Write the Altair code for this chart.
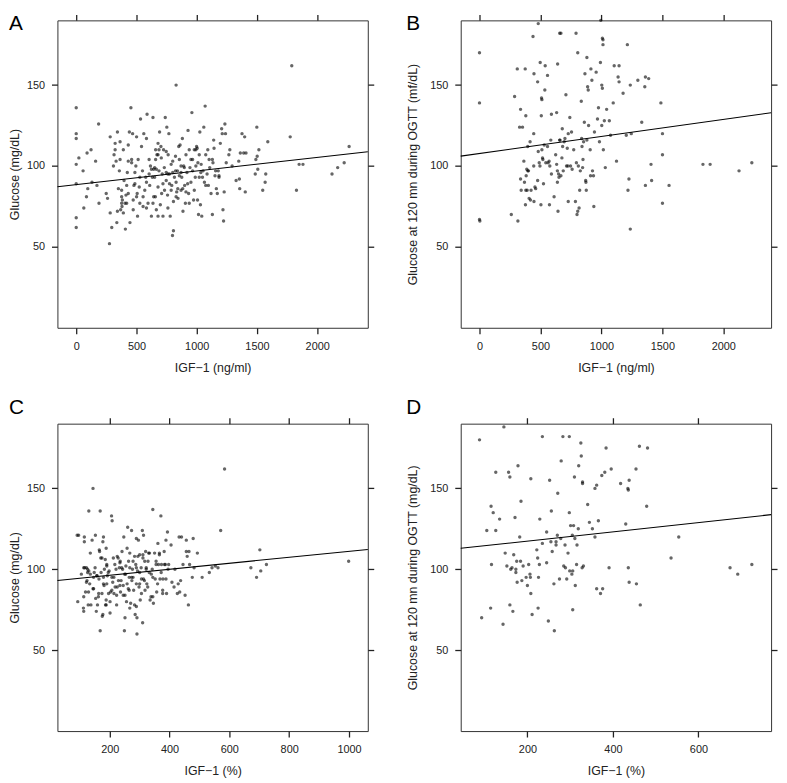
import altair as alt
import pandas as pd

FONT = "Liberation Sans"

# ---------------- Panel A: IGF-1 (ng/ml) vs fasting glucose ----------------
A_igf = [0,0,0,0,0,0,0,22,63,57,
90,123,96,85,131,161,186,189,172,249,
260,276,282,282,295,309,314,323,331,337,
342,342,350,358,364,369,377,377,380,383,
391,397,405,408,413,419,424,432,441,446,
454,460,468,473,479,487,495,501,506,509,
514,523,528,534,542,550,555,561,569,577,
583,588,596,605,610,616,624,632,637,643,
651,651,657,659,665,670,679,687,692,698,
703,709,714,720,725,731,739,747,752,758,
763,769,774,780,788,793,799,807,807,815,
824,829,834,840,845,851,856,862,870,876,
881,886,892,900,906,911,919,928,933,938,
944,952,960,966,974,980,988,993,999,1004,
1010,1015,1021,1026,1031,1037,1042,1053,1059,1064,
1070,1075,1086,1092,1097,1108,1119,1130,1135,1141,
1144,1152,1163,1171,1179,1185,1196,1207,1212,1218,
1223,1228,1234,1239,1245,1267,1275,1294,1327,1349,
1354,1357,1362,1376,1390,1398,1403,1409,1486,1491,
1499,1502,1507,1516,1548,1568,1573,1590,1776,1789,
1828,1850,1882,2123,2170,2224,2265,
323,364,432,460,487,501,528,555,583,605,
624,643,659,665,679,687,706,720,733,747,
761,774,788,801,824,829,843,856,870,884,
897,911,925,938,952,966,980,993,1007,1021,
1034,1048,1075,1103,1130,1157,1185,432,473,391,
419,377,583,637,679,761,829,870,801,747,679]
A_glu = [136,120,117,101,89,68,62,105,74,97,
108,110,86,81,90,103,126,77,88,83,
80,52,71,118,62,100,107,110,103,65,
121,72,86,97,104,73,81,77,75,79,
110,91,77,61,82,88,96,113,121,65,
136,104,120,79,88,96,100,118,83,69,
104,87,93,129,112,97,75,120,85,93,
117,132,77,104,88,100,69,93,130,81,
99,93,81,110,73,107,87,97,121,76,
112,83,95,69,110,99,130,91,124,82,
107,120,95,69,101,88,57,60,78,93,
106,150,84,97,80,112,104,113,85,93,
117,72,100,88,77,107,96,122,83,110,
99,90,133,104,79,110,93,100,112,111,
102,70,93,121,76,101,69,97,124,90,
137,107,95,110,88,99,83,70,102,116,
111,94,86,83,97,94,114,123,120,73,
66,84,126,120,102,107,110,100,91,103,
92,86,108,120,108,118,84,108,95,104,
124,106,98,110,85,90,95,115,118,162,
85,101,101,95,99,102,112,
114,115,103,102,89,81,77,81,90,95,
98,98,104,98,107,110,105,89,85,96,
95,89,85,96,97,81,86,94,96,86,
99,84,89,77,104,97,85,110,79,107,
96,93,88,104,104,97,93,83,73,71,
77,85,74,77,69,74,90,100,103,109,114]

# ---------------- Panel B: IGF-1 (ng/ml) vs 120-min OGTT glucose ----------------
B_igf = [0,0,0,3,261,288,310,315,329,337,
337,342,353,364,369,375,377,380,380,383,
388,391,396,396,402,407,415,418,423,439,
445,445,447,447,455,461,477,477,482,482,
490,496,498,504,507,509,512,512,517,520,
525,531,536,539,544,558,558,563,571,574,
577,585,590,590,612,625,633,633,639,639,
641,644,649,652,658,658,660,668,668,676,
679,682,687,695,701,709,714,720,725,728,
728,741,747,755,760,773,787,792,795,800,
806,806,811,817,822,827,835,838,841,846,
849,854,860,865,871,873,876,881,881,887,
892,895,908,911,914,922,927,935,938,943,
957,968,976,984,992,995,1003,1003,1008,1008,
1013,1013,1016,1024,1032,1043,1065,1075,1097,1105,
1124,1137,1145,1145,1178,1204,1213,1218,1226,1237,
1237,1245,1299,1331,1356,1361,1361,1388,1407,1412,
1488,1501,1501,1501,1555,1833,1892,2129,2234]
B_glu = [170,139,67,66,70,143,160,66,124,135,
92,85,124,103,90,160,76,85,131,94,
98,85,97,112,97,80,115,79,85,180,
120,100,157,78,87,86,152,91,109,188,
102,100,164,76,131,142,141,110,105,104,
89,113,147,162,102,156,112,102,103,76,
100,116,132,95,81,107,133,101,97,90,
163,72,95,93,182,116,116,182,94,105,
123,112,97,115,117,144,100,111,100,120,
78,130,100,121,98,110,78,182,102,70,
170,72,100,74,85,97,140,117,112,99,
104,115,127,157,91,90,85,167,116,149,
147,125,110,94,160,153,97,94,75,121,
158,129,136,115,164,190,150,125,148,179,
175,178,110,128,99,135,128,119,139,162,
103,155,162,152,145,119,175,85,92,150,
61,120,153,127,149,155,88,154,101,91,
139,120,107,77,88,101,101,97,102]

# ---------------- Panel C: IGF-1 (%) vs fasting glucose ----------------
C_igf = [91,96,93,105,112,113,113,115,115,116,
119,122,124,126,126,128,130,130,133,135,
141,144,144,146,148,152,153,155,157,159,
163,164,165,166,168,168,170,171,174,175,
177,177,179,179,181,182,185,186,188,188,
190,190,192,196,198,201,203,206,207,208,
210,212,214,218,221,223,225,225,229,232,
234,235,236,238,241,243,245,247,249,251,
251,253,254,256,258,260,262,263,265,267,
267,270,273,274,276,278,280,283,285,287,
289,289,291,291,293,296,298,300,300,302,
305,306,309,310,311,313,313,317,318,320,
322,324,328,330,332,335,338,342,344,346,
350,352,355,357,361,363,366,368,371,373,
377,378,382,386,388,390,393,395,397,405,
408,415,418,426,429,432,434,437,440,445,
452,456,456,459,463,465,467,476,479,482,
493,509,533,542,553,562,571,584,672,691,
702,705,724,999,
113,122,129,137,146,157,162,174,179,188,
195,201,207,214,223,228,234,240,245,250,
258,265,273,278,283,289,294,300,306,311,
316,322,327,333,339,344,355,360,366,372,
377,383,388,135,151,190,217,267,289,344]
C_glu = [121,121,80,97,76,74,83,120,117,101,
86,101,93,100,98,78,136,99,91,110,
118,150,88,95,98,121,82,74,96,78,
85,94,112,111,136,62,107,98,85,71,
117,72,120,95,90,100,106,78,113,78,
91,103,96,85,99,80,86,133,95,130,
92,107,85,89,100,84,108,89,93,101,
104,105,86,93,111,100,90,120,62,70,
84,97,102,80,91,126,88,105,95,76,
110,79,124,93,100,95,87,108,72,103,
77,119,60,70,99,118,89,109,91,81,
101,94,124,67,109,121,94,105,87,111,
100,91,105,110,98,81,83,100,137,79,
110,94,103,86,116,103,110,94,133,103,
85,94,111,103,118,85,123,100,103,115,
92,89,100,85,91,120,86,93,120,103,
84,118,111,108,78,111,103,95,119,101,
110,95,98,101,102,101,124,162,101,95,
112,99,103,105,
101,92,86,78,88,96,83,107,91,81,
98,73,87,95,78,107,90,101,84,97,
113,87,95,105,78,91,108,98,85,107,
93,101,89,110,97,83,105,91,109,98,
87,103,94,97,101,102,103,101,101,95]

# ---------------- Panel D: IGF-1 (%) vs 120-min OGTT glucose ----------------
D_igf = [88,93,105,114,115,116,120,126,126,135,
143,145,148,152,156,159,159,161,164,166,
168,171,173,173,175,176,178,182,184,185,
187,190,197,200,203,206,207,208,208,211,
222,224,225,226,228,229,235,235,245,245,
249,252,255,256,258,262,263,267,267,270,
271,275,278,279,283,285,288,289,292,295,
298,298,299,301,304,305,306,306,308,310,
311,312,315,316,319,320,325,326,328,329,
329,331,341,345,352,358,358,362,362,366,
371,374,376,381,384,391,396,418,430,435,
436,436,438,438,454,455,462,464,479,481,
536,554,674,692,725]
D_glu = [180,70,124,76,139,103,135,124,160,131,
66,188,110,102,160,157,78,100,101,74,
109,132,98,100,105,92,164,120,105,142,
93,102,95,90,103,97,95,156,85,72,
112,107,76,95,103,131,116,182,123,104,
68,155,117,136,111,91,62,117,115,121,
147,94,119,167,182,102,115,101,94,110,
182,135,99,127,97,121,99,75,127,157,
119,90,103,115,125,164,178,170,101,154,
153,102,140,129,125,150,120,152,88,130,
85,158,88,160,175,101,162,153,128,150,
149,101,92,155,162,91,176,78,139,175,
107,120,101,97,103]

# fitted regression lines (intercept, slope)
fit_A = (88.5, 0.00841)
fit_B = (107.7, 0.01053)
fit_C = (92.6, 0.0185)
fit_D = (111.7, 0.02865)

# axis ranges and ticks
xdom_A = [-156, 2420]
xdom_B = [-154, 2392]
xdom_C = [25, 1063]
xdom_D = [44, 770]
ydom = [0, 190]
xticks_ng = [0, 500, 1000, 1500, 2000]
xticks_C = [200, 400, 600, 800, 1000]
xticks_D = [200, 400, 600]
yticks = [50, 100, 150]

W, H = 314, 311
INK = "#222222"
TXT = "#222222"

common_axis = dict(grid=False, domain=False, ticks=True, tickSize=6, tickColor=INK,
                   tickWidth=1.3, tickOpacity=1,
                   labelFont=FONT, labelFontSize=11, labelColor=TXT, format="d",
                   titleFont=FONT, titleFontSize=12.5, titleColor=TXT,
                   titleFontWeight="normal")


def panel(xs, ys, fit, xdom, xticks, xtitle, ytitle, letter, lx, ly, ytpad):
    pts = pd.DataFrame({"x": xs, "y": ys})
    b0, b1 = fit
    ln = pd.DataFrame({"x": xdom, "y": [b0 + b1 * xdom[0], b0 + b1 * xdom[1]]})
    xs_ = alt.Scale(domain=xdom, nice=False, zero=False)
    ys_ = alt.Scale(domain=ydom, nice=False, zero=False)

    points = alt.Chart(pts).mark_circle(size=12, color="black", opacity=0.6).encode(
        x=alt.X("x:Q", scale=xs_, title=xtitle,
                axis=alt.Axis(values=xticks, orient="bottom", labelPadding=7,
                              titlePadding=10, **common_axis)),
        y=alt.Y("y:Q", scale=ys_, title=ytitle,
                axis=alt.Axis(values=yticks, orient="left", labelPadding=7,
                              titlePadding=ytpad, **common_axis)),
    )
    line = alt.Chart(ln).mark_line(color="black", strokeWidth=1.1).encode(
        x=alt.X("x:Q", scale=xs_, title=None,
                axis=alt.Axis(values=xticks, orient="top", labels=False, **common_axis)),
        y=alt.Y("y:Q", scale=ys_, title=None,
                axis=alt.Axis(values=yticks, orient="right", labels=False, **common_axis)),
    )
    lab = alt.Chart(pd.DataFrame({"t": [letter]})).mark_text(
        font=FONT, fontSize=21, align="left", baseline="alphabetic", color="black"
    ).encode(text="t:N", x=alt.value(lx), y=alt.value(ly))
    return alt.layer(points, line, lab).resolve_axis(
        x="independent", y="independent").properties(width=W, height=H)


pA = panel(A_igf, A_glu, fit_A, xdom_A, xticks_ng, "IGF\u22121 (ng/ml)",
           "Glucose (mg/dL)", "A", -49, 10, 5)
pB = panel(B_igf, B_glu, fit_B, xdom_B, xticks_ng, "IGF\u22121 (ng/ml)",
           "Glucose at 120 mn during OGTT (mf/dL)", "B", -55, 10, 10)
pC = panel(C_igf, C_glu, fit_C, xdom_C, xticks_C, "IGF\u22121 (%)",
           "Glucose (mg/dL)", "C", -49, -10, 5)
pD = panel(D_igf, D_glu, fit_D, xdom_D, xticks_D, "IGF\u22121 (%)",
           "Glucose at 120 mn during OGTT (mg/dL)", "D", -55, -10, 10)

chart = alt.concat(pA, pB, pC, pD, columns=2,
                   spacing={"row": 97, "column": 94},
                   bounds="flush", padding=0).configure_view(
    stroke="#333333", strokeWidth=1)

chart.save("out.html", embed_options={"renderer": "svg", "actions": False})
